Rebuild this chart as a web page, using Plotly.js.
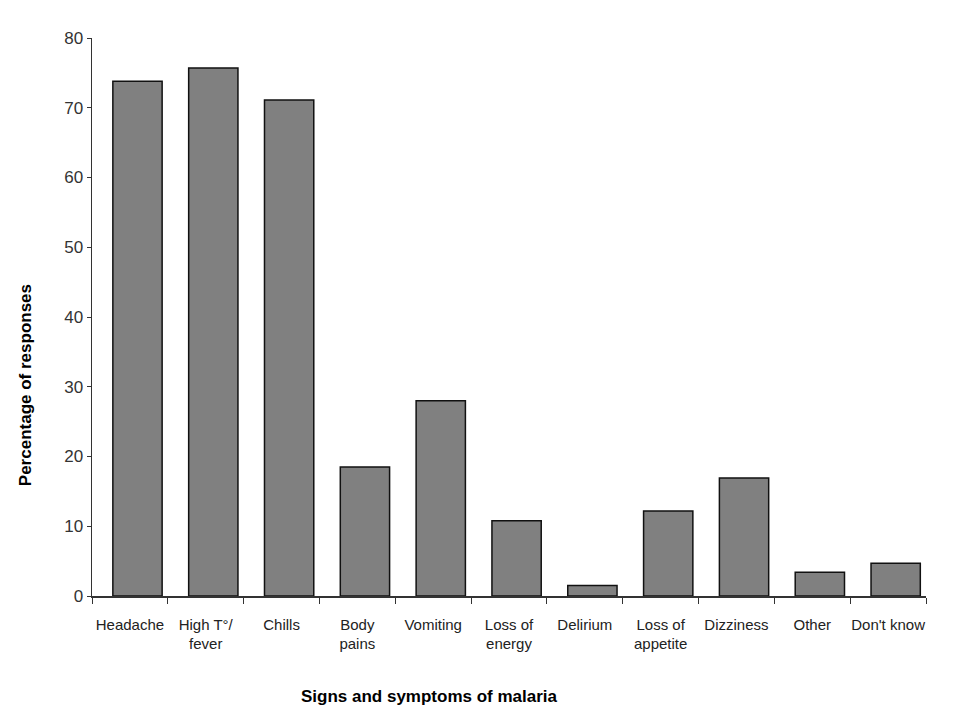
<!DOCTYPE html>
<html>
<head>
<meta charset="utf-8">
<script src="https://cdn.plot.ly/plotly-3.0.1.min.js"></script>
<style>
  body { margin: 0; background: #fff; }
  #chart { width: 960px; height: 720px; }
</style>
</head>
<body>
<div id="chart"></div>
<script>
const symptoms = ['Headache', 'High T°/<br>fever', 'Chills', 'Body<br>pains', 'Vomiting',
    'Loss of<br>energy', 'Delirium', 'Loss of<br>appetite', 'Dizziness', 'Other', "Don't know"]
const percentages = [73.8, 75.7, 71.1, 18.5, 28.0, 10.8, 1.5, 12.2, 16.9, 3.4, 4.7]
const yTicks = [0, 10, 20, 30, 40, 50, 60, 70, 80]

const font = 'Liberation Sans, Arial, sans-serif'

// bars sit a little right of the slot centre in the original
const barWidth = 0.65
const barShift = 0.1

var data = [
    {
        type: 'bar',
        x: symptoms,
        y: percentages,
        width: barWidth,
        offset: -barWidth / 2 + barShift,
        marker: { color: '#808080', line: { color: '#111', width: 1.5 } },
        hoverinfo: 'x+y',
    },
]

var layout = {
    width: 960,
    height: 720,
    margin: { l: 92, r: 34, t: 38, b: 124 },
    paper_bgcolor: '#fff',
    plot_bgcolor: '#fff',
    showlegend: false,
    font: { family: font, color: '#222' },
    xaxis: {
        type: 'category',
        showgrid: false,
        zeroline: false,
        showline: true,
        linecolor: '#333',
        linewidth: 1.5,
        ticks: 'outside',
        tickson: 'boundaries',
        ticklen: 6,
        tickcolor: '#333',
        ticklabelstandoff: 14,
        tickfont: { size: 15, family: font, color: '#222' },
        tickangle: 0,
    },
    yaxis: {
        range: [0, 80],
        tickvals: yTicks,
        showgrid: false,
        zeroline: false,
        showline: true,
        linecolor: '#333',
        linewidth: 1.5,
        ticks: 'outside',
        ticklen: 4,
        tickcolor: '#333',
        tickfont: { size: 17, family: font, color: '#333' },
    },
    annotations: [
        {
            text: '<b>Signs and symptoms of malaria</b>',
            xref: 'paper', yref: 'paper',
            x: 0.405, y: -0.2,
            showarrow: false,
            font: { size: 17, family: font, color: '#000' },
        },
        {
            text: '<b>Percentage of responses</b>',
            xref: 'paper', yref: 'paper',
            x: -0.094, y: 0.378,
            textangle: -90,
            showarrow: false,
            font: { size: 17, family: font, color: '#000' },
        },
    ],
}

Plotly.newPlot('chart', data, layout, { displayModeBar: false, staticPlot: true })
</script>
</body>
</html>
